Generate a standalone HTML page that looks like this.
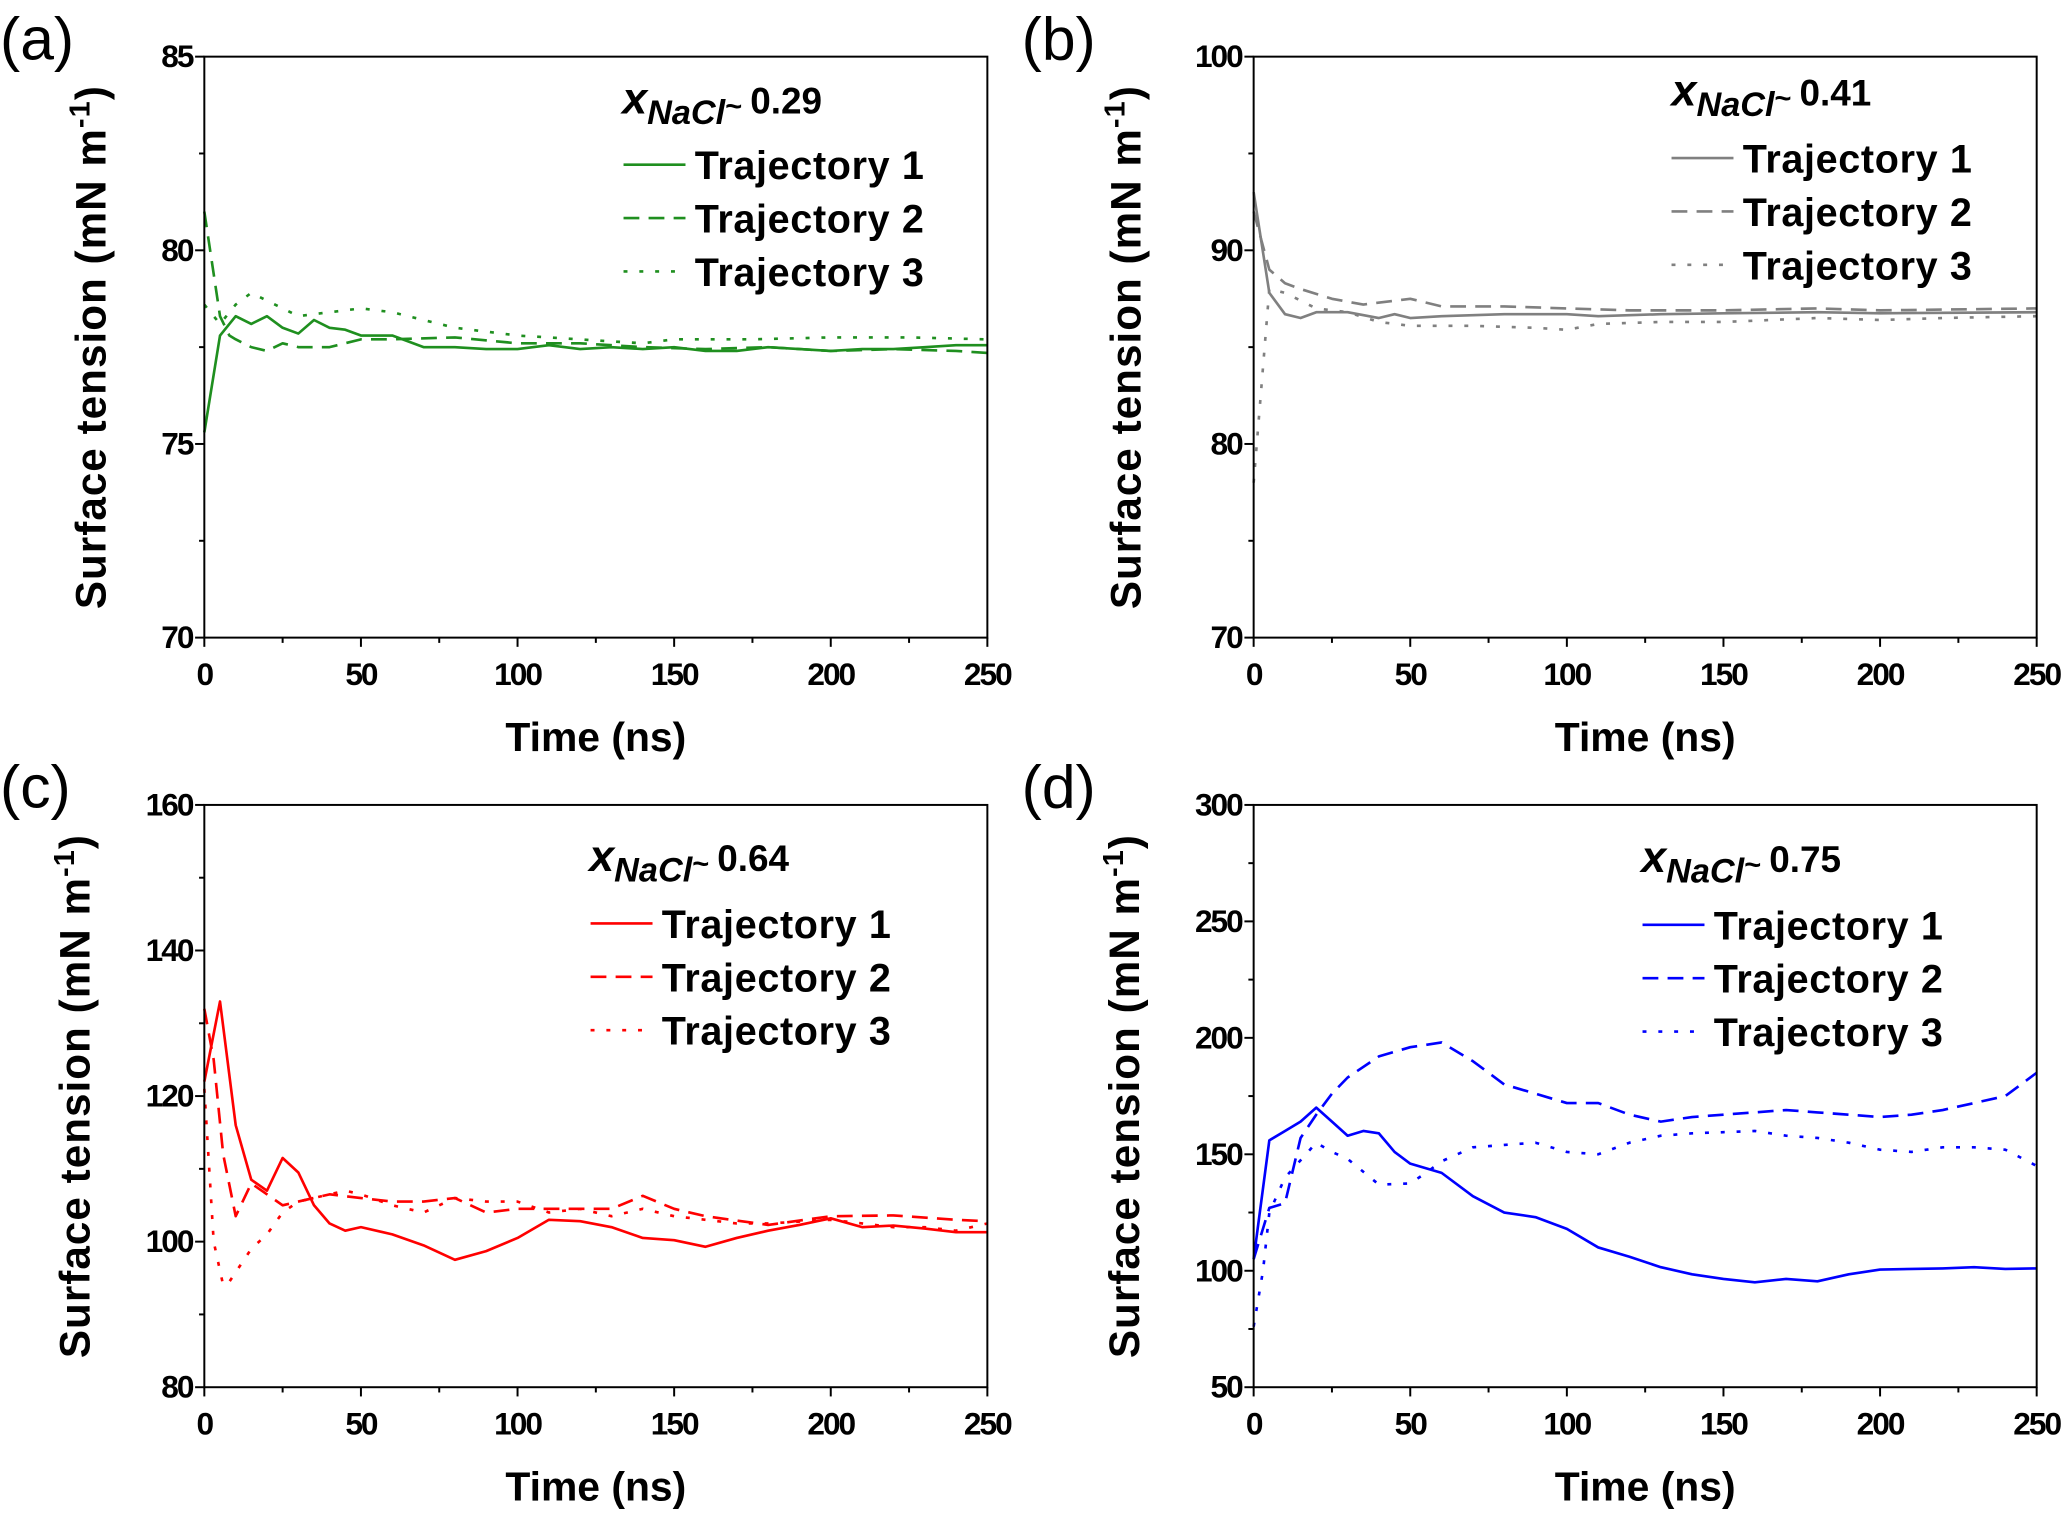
<!DOCTYPE html>
<html><head><meta charset="utf-8"><style>
html,body{margin:0;padding:0;background:#fff}
svg{display:block}
text{font-family:"Liberation Sans",Arial,sans-serif}
</style></head><body>
<svg id="fig" width="2067" height="1515" viewBox="0 0 1568 1150" preserveAspectRatio="none" xmlns="http://www.w3.org/2000/svg"></svg>
<script>
// ---- Data (time in ns, surface tension in mN/m) ----
const xTicks=[0,50,100,150,200,250];
const aT1x=[0,5,10,15,20,25,30,35,40,45,50,60,70,80,90,100,110,120,130,140,150,160,170,180,190,200,210,220,230,240,250];
const aT1y=[75.3,77.8,78.3,78.1,78.3,78.0,77.85,78.2,78.0,77.95,77.8,77.8,77.5,77.5,77.45,77.45,77.55,77.45,77.5,77.45,77.5,77.4,77.4,77.5,77.45,77.4,77.45,77.45,77.5,77.55,77.55];
const aT2x=[0,5,8,10,15,20,25,30,40,50,60,80,100,120,140,160,180,200,220,240,250];
const aT2y=[81,78.3,77.8,77.7,77.5,77.4,77.6,77.5,77.5,77.7,77.7,77.75,77.6,77.6,77.5,77.45,77.5,77.4,77.45,77.4,77.35];
const aT3x=[0,5,10,15,20,30,40,50,60,70,80,100,120,140,150,175,200,225,250];
const aT3y=[78.6,78.1,78.6,78.9,78.7,78.3,78.4,78.5,78.4,78.2,78.0,77.8,77.7,77.6,77.7,77.7,77.75,77.75,77.7];
const bT1x=[0,5,10,15,20,30,40,45,50,60,80,100,110,130,150,180,200,250];
const bT1y=[93,87.8,86.7,86.5,86.8,86.8,86.5,86.7,86.5,86.6,86.7,86.7,86.6,86.7,86.75,86.8,86.75,86.8];
const bT2x=[0,5,10,15,25,35,50,60,80,100,120,150,180,200,250];
const bT2y=[92,89,88.3,88,87.5,87.2,87.5,87.1,87.1,87,86.9,86.9,87,86.9,87];
const bT3x=[0,5,10,20,30,40,50,70,90,100,110,130,150,180,200,220,250];
const bT3y=[78,88,87.8,87,86.8,86.3,86.1,86.1,86.0,85.9,86.2,86.3,86.3,86.5,86.4,86.5,86.6];
const cT1x=[0,5,10,15,20,25,30,35,40,45,50,60,70,80,90,100,110,120,130,140,150,160,170,180,190,200,210,220,230,240,250];
const cT1y=[122,133,116,108.5,107,111.5,109.5,105,102.5,101.5,102,101,99.5,97.5,98.7,100.5,103,102.8,102,100.5,100.2,99.3,100.5,101.5,102.3,103.2,102,102.2,101.8,101.3,101.3];
const cT2x=[0,3,6,10,15,20,25,30,40,50,60,70,80,90,100,110,120,130,140,150,160,180,200,220,240,250];
const cT2y=[132,125,112,103.5,108,106.5,105,105.5,106.5,106,105.5,105.5,106,104,104.5,104.5,104.5,104.5,106.3,104.5,103.5,102.3,103.5,103.6,103,102.8];
const cT3x=[0,3,6,8,15,20,25,30,40,45,50,60,70,80,90,100,110,120,130,140,150,160,170,180,200,210,220,230,240,250];
const cT3y=[121,100,94,94.5,99,101,104,105.5,106.5,107,106.5,105,104,106,105.5,105.5,104,104.5,103.5,104.5,103.5,103,102.5,102.5,103,102.5,102,102,101.5,102.5];
const dT1x=[0,5,10,15,20,25,30,35,40,45,50,60,70,80,90,100,110,120,130,140,150,160,170,180,190,200,220,230,240,250];
const dT1y=[105,156,160,164,170,164,158,160,159,151,146,142,132,125,123,118,110,106,101.5,98.5,96.5,95,96.5,95.5,98.5,100.5,101,101.5,100.8,101];
const dT2x=[0,5,10,15,20,25,30,40,50,60,70,80,90,100,110,120,130,140,150,160,170,180,190,200,210,220,230,240,250];
const dT2y=[105,127,129,157,167,176,183,192,196,198,190,180,176,172,172,167,164,166,167,168,169,168,167,166,167,169,172,175,185];
const dT3x=[0,3,5,10,20,25,30,40,50,55,60,70,80,90,100,110,120,130,140,150,160,170,180,190,200,210,220,230,240,250];
const dT3y=[76,100,125,140,155,151,148,137,137.5,142,147,153,154,155,151,150,155,158,159,159.5,160,158,157,155,152,151,153,153,152,145];
const aYTicks=[70,75,80,85], bYTicks=[70,80,90,100], cYTicks=[80,100,120,140,160], dYTicks=[50,100,150,200,250,300];

const NS="http://www.w3.org/2000/svg";
const svg=document.getElementById('fig');
function mk(tag,attrs,parent){const e=document.createElementNS(NS,tag);for(const k in attrs)e.setAttribute(k,attrs[k]);(parent||svg).appendChild(e);return e;}

const panels=[
 {id:'a',L:155,R:749,T:43,B:484,ymin:70,ymax:85,yt:aYTicks,color:'#1f8f1f',series:[[aT1x,aT1y],[aT2x,aT2y],[aT3x,aT3y]],leg:{x:473,y:125,tx:472,ty:86,val:'0.29'},lab:{x:0,y:45},ytx:80},
 {id:'b',L:951,R:1545,T:43,B:484,ymin:70,ymax:100,yt:bYTicks,color:'#808080',series:[[bT1x,bT1y],[bT2x,bT2y],[bT3x,bT3y]],leg:{x:1268,y:120,tx:1268,ty:80,val:'0.41'},lab:{x:775,y:45},ytx:865},
 {id:'c',L:155,R:749,T:611,B:1053,ymin:80,ymax:160,yt:cYTicks,color:'#ff0000',series:[[cT1x,cT1y],[cT2x,cT2y],[cT3x,cT3y]],leg:{x:448,y:701,tx:447,ty:661,val:'0.64'},lab:{x:0,y:613},ytx:68},
 {id:'d',L:951,R:1545,T:611,B:1053,ymin:50,ymax:300,yt:dYTicks,color:'#0000ff',series:[[dT1x,dT1y],[dT2x,dT2y],[dT3x,dT3y]],leg:{x:1246,y:702,tx:1245,ty:662,val:'0.75'},lab:{x:775,y:613},ytx:864}
];
const dashes=['none','12,7','3,9'];

panels.forEach(p=>{
  const g=mk('g',{});
  
  
  const sx=v=>p.L+(v-0)/(250-0)*(p.R-p.L);
  const sy=v=>p.B-(v-p.ymin)/(p.ymax-p.ymin)*(p.B-p.T);
  p.series.forEach((s,i)=>{
    const d=s[0].map((x,j)=>(j?'L':'M')+sx(x).toFixed(1)+','+sy(s[1][j]).toFixed(1)).join(' ');
    const path=mk('path',{d:d,fill:'none',stroke:p.color,'stroke-width':2,'stroke-dasharray':dashes[i],'stroke-linejoin':'round'},g);
    
    
  });
  const fr=mk('rect',{x:p.L,y:p.T,width:p.R-p.L,height:p.B-p.T,fill:'none',stroke:'#000','stroke-width':1.5},g);
  
  
  for(let v=0;v<=250;v+=25){
    const major=v%50===0;
    mk('line',{x1:sx(v),x2:sx(v),y1:p.B,y2:p.B+(major?7:4),stroke:'#000','stroke-width':1.5},g);
  }
  xTicks.forEach(v=>{
    const t=mk('text',{x:sx(v),y:p.B+36,'text-anchor':'middle','font-size':24,'font-weight':'bold','letter-spacing':'-1.5'},g);
    t.textContent=v;
    
    
  });
  for(let k=0;k<p.yt.length;k++){
    const v=p.yt[k];
    mk('line',{x1:p.L-7,x2:p.L,y1:sy(v),y2:sy(v),stroke:'#000','stroke-width':1.5},g);
    if(k<p.yt.length-1){const m=(v+p.yt[k+1])/2;mk('line',{x1:p.L-4,x2:p.L,y1:sy(m),y2:sy(m),stroke:'#000','stroke-width':1.5},g);}
    const t=mk('text',{x:p.L-9,y:sy(v)+8,'text-anchor':'end','font-size':24,'font-weight':'bold','letter-spacing':'-1.5'},g);
    t.textContent=v;
    
    
  }
  const xt=mk('text',{x:(p.L+p.R)/2,y:p.B+86,'text-anchor':'middle','font-size':31,'font-weight':'bold'},g);
  xt.textContent='Time (ns)';
  
  
  const cy=(p.T+p.B)/2;
  const yt=mk('text',{x:0,y:0,'text-anchor':'middle','font-size':32,'font-weight':'bold','letter-spacing':'0.8',transform:`translate(${p.ytx},${cy}) rotate(-90)`},g);
  yt.innerHTML='Surface tension (mN m<tspan dy="-12" font-size="22">-1</tspan><tspan dy="12">)</tspan>';
  
  
  const pl=mk('text',{x:p.lab.x,y:p.lab.y,'font-size':46},g);
  pl.textContent='('+p.id+')';
  
  
  const lt=mk('text',{x:p.leg.tx,y:p.leg.ty,'font-weight':'bold','font-size':34,'font-style':'italic'},g);
  lt.innerHTML='x<tspan font-size="26" dy="8">NaCl</tspan><tspan font-size="22" font-style="normal" dy="-6">~ </tspan><tspan font-size="28" font-style="normal" dy="-2">'+p.leg.val+'</tspan>';
  
  
  for(let i=0;i<3;i++){
    const yy=p.leg.y+i*40.5;
    const ll=mk('line',{x1:p.leg.x,x2:p.leg.x+47,y1:yy,y2:yy,stroke:p.color,'stroke-width':2,'stroke-dasharray':dashes[i]},g);
    
    
    const tx=mk('text',{x:p.leg.x+54,y:yy+11,'font-size':30,'font-weight':'bold','letter-spacing':'0.5'},g);
    tx.textContent='Trajectory '+(i+1);
    
    
  }
});
</script>
</body></html>
